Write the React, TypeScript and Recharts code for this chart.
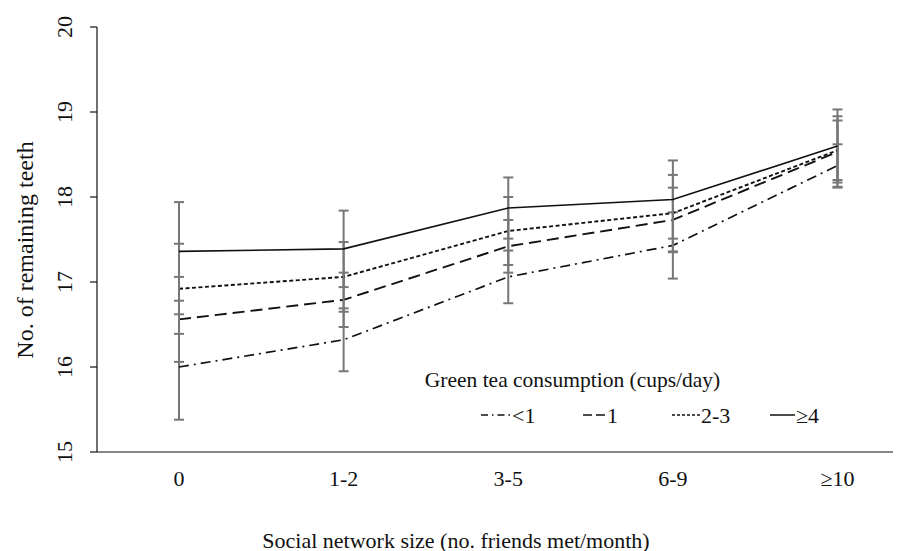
import { LineChart, Line, XAxis, YAxis, ErrorBar, Label } from 'recharts';

const categories = ['0', '1-2', '3-5', '6-9', '≥10'];

// mean no. of remaining teeth per green tea group
const lessThanOne = [16.0, 16.32, 17.06, 17.43, 18.37];
const oneCup = [16.56, 16.79, 17.42, 17.73, 18.53];
const twoToThree = [16.92, 17.06, 17.6, 17.81, 18.55];
const fourPlus = [17.36, 17.39, 17.87, 17.97, 18.6];

// half-width of the error bars
const lessThanOneErr = [0.62, 0.37, 0.31, 0.39, 0.25];
const oneCupErr = [0.5, 0.32, 0.31, 0.38, 0.42];
const twoToThreeErr = [0.53, 0.41, 0.4, 0.45, 0.35];
const fourPlusErr = [0.58, 0.45, 0.36, 0.46, 0.43];

const yTicks = [15, 16, 17, 18, 19, 20];

const data = categories.map((name, i) => ({
  name,
  lt1: lessThanOne[i],
  lt1Err: lessThanOneErr[i],
  one: oneCup[i],
  oneErr: oneCupErr[i],
  two: twoToThree[i],
  twoErr: twoToThreeErr[i],
  four: fourPlus[i],
  fourErr: fourPlusErr[i],
}));

const FONT = '"Liberation Serif", "Times New Roman", serif';
const INK = '#111';
const BAR = '#777';

const YTick = (props: any) => {
  const { y, payload } = props;
  return (
    <text
      x={56}
      y={y}
      transform={`rotate(-90, 56, ${y})`}
      textAnchor="middle"
      dominantBaseline="central"
      fontFamily={FONT}
      fontSize={22}
      fill={INK}
    >
      {payload.value}
    </text>
  );
};

const XTick = (props: any) => {
  const { x, payload } = props;
  return (
    <text x={x} y={470} textAnchor="middle" dominantBaseline="central" fontFamily={FONT} fontSize={22} fill={INK}>
      {payload.value}
    </text>
  );
};

const legendItems = [
  { label: '<1', x1: 73, x2: 103, dash: '7 4 1.5 4' },
  { label: '1', x1: 175, x2: 198, dash: '9 4' },
  { label: '2-3', x1: 264, x2: 292, dash: '3 2' },
  { label: '≥4', x1: 362, x2: 387, dash: undefined },
];

const GreenTeaLegend = () => (
  <svg width={460} height={80} style={{ position: 'absolute', left: 400, top: 350, overflow: 'visible' }}>
    <text x={164.5} y={22} textAnchor="middle" dominantBaseline="central" fontFamily={FONT} fontSize={21.5} fill={INK}>
      Green tea consumption (cups/day)
    </text>
    {legendItems.map((it) => (
      <g key={it.label}>
        <line x1={it.x1} x2={it.x2} y1={57} y2={57} stroke={INK} strokeWidth={1.5} strokeDasharray={it.dash} />
        <text x={it.x2 + 1} y={57} dominantBaseline="central" fontFamily={FONT} fontSize={22} fill={INK}>
          {it.label}
        </text>
      </g>
    ))}
  </svg>
);

export default function App() {
  return (
    <div style={{ position: 'relative', width: 893, height: 543, overflow: 'hidden', background: '#fff' }}>
      <LineChart width={920} height={543} data={data} margin={{ top: 19, right: 8.5, bottom: 9, left: 0 }}>
        <XAxis
          dataKey="name"
          height={90}
          padding={{ left: 82, right: 82 }}
          tickLine={false}
          axisLine={{ stroke: INK, strokeWidth: 1.2 }}
          tick={<XTick />}
          interval={0}
        >
          <Label
            content={() => (
              <text x={448} y={532} textAnchor="middle" dominantBaseline="central" fontFamily={FONT} fontSize={22} fill={INK}>
                Social network size (no. friends met/month)
              </text>
            )}
          />
        </XAxis>
        <YAxis
          width={89}
          domain={[15, 20]}
          ticks={yTicks}
          interval={0}
          tickSize={7}
          tickLine={{ stroke: INK, strokeWidth: 1.2 }}
          axisLine={{ stroke: INK, strokeWidth: 1.2 }}
          tick={<YTick />}
        >
          <Label
            content={() => (
              <text
                x={17}
                y={242}
                transform="rotate(-90, 17, 242)"
                textAnchor="middle"
                dominantBaseline="central"
                fontFamily={FONT}
                fontSize={24}
                fill={INK}
              >
                No. of remaining teeth
              </text>
            )}
          />
        </YAxis>
        <Line dataKey="lt1" stroke={INK} strokeWidth={1.7} strokeDasharray="10 5 2 5" dot={false} isAnimationActive={false}>
          <ErrorBar dataKey="lt1Err" direction="y" width={5} stroke={BAR} strokeWidth={2} />
        </Line>
        <Line dataKey="one" stroke={INK} strokeWidth={1.9} strokeDasharray="12 6" dot={false} isAnimationActive={false}>
          <ErrorBar dataKey="oneErr" direction="y" width={5} stroke={BAR} strokeWidth={2} />
        </Line>
        <Line dataKey="two" stroke={INK} strokeWidth={1.9} strokeDasharray="4 2.5" dot={false} isAnimationActive={false}>
          <ErrorBar dataKey="twoErr" direction="y" width={5} stroke={BAR} strokeWidth={2} />
        </Line>
        <Line dataKey="four" stroke={INK} strokeWidth={1.6} dot={false} isAnimationActive={false}>
          <ErrorBar dataKey="fourErr" direction="y" width={5} stroke={BAR} strokeWidth={2} />
        </Line>
      </LineChart>
      <GreenTeaLegend />
    </div>
  );
}
